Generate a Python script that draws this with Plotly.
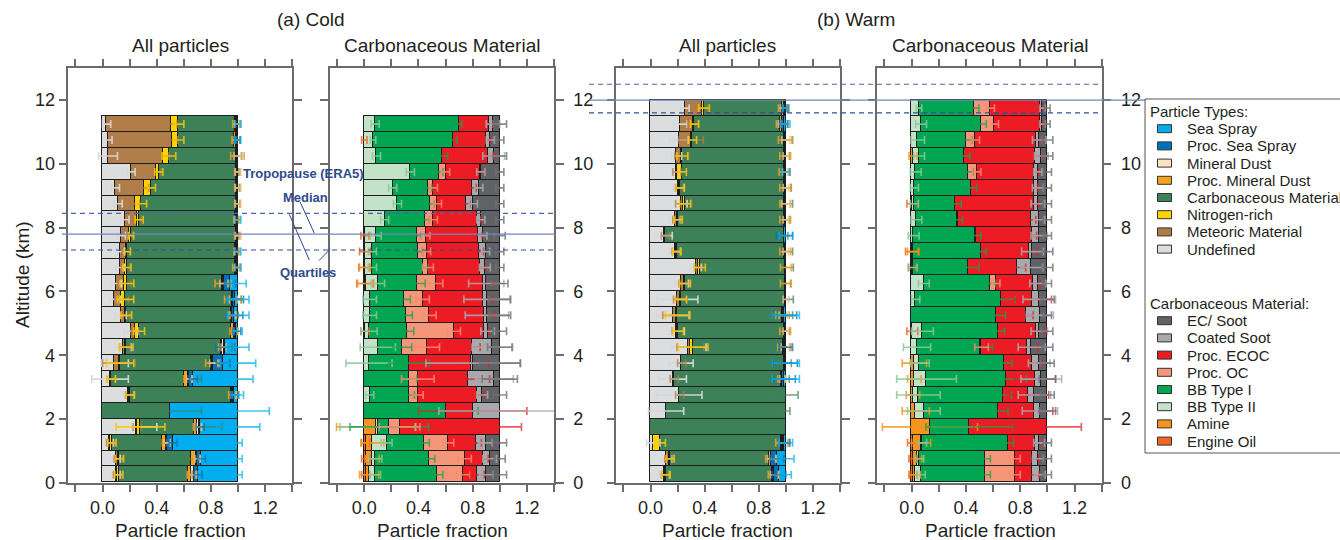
import numpy as np
import plotly.graph_objects as go

# ---------------- data ----------------
ALT_COLD = [0.25, 0.75, 1.25, 1.75, 2.25, 2.75, 3.25, 3.75, 4.25, 4.75, 5.25, 5.75,
            6.25, 6.75, 7.25, 7.75, 8.25, 8.75, 9.25, 9.75, 10.25, 10.75, 11.25]
ALT_WARM = [0.25, 0.75, 1.25, 1.75, 2.25, 2.75, 3.25, 3.75, 4.25, 4.75, 5.25, 5.75,
            6.25, 6.75, 7.25, 7.75, 8.25, 8.75, 9.25, 9.75, 10.25, 10.75, 11.25, 11.75]

PT_NAMES = ["Undefined", "Meteoric Material", "Nitrogen-rich", "Carbonaceous Material",
            "Proc. Mineral Dust", "Mineral Dust", "Proc. Sea Spray", "Sea Spray"]
CM_NAMES = ["Engine Oil", "Amine", "BB Type II", "BB Type I", "Proc. OC", "Proc. ECOC",
            "Coated Soot", "EC/ Soot"]

# (a) Cold - all particles (fractions, bottom -> top)
CA_UNDEF = [0.10, 0.10, 0.05, 0.25, 0.00, 0.19, 0.055, 0.09, 0.15, 0.21, 0.135, 0.09, 0.10, 0.13, 0.13, 0.14, 0.165, 0.115, 0.095, 0.21, 0.04, 0.04, 0.03]
CA_METEOR = [0.01, 0.015, 0.01, 0.005, 0.00, 0.01, 0.01, 0.03, 0.015, 0.03, 0.035, 0.05, 0.06, 0.04, 0.045, 0.06, 0.09, 0.13, 0.215, 0.19, 0.41, 0.475, 0.48]
CA_NITRO = [0.01, 0.01, 0.01, 0.025, 0.00, 0.005, 0.00, 0.01, 0.01, 0.03, 0.005, 0.03, 0.02, 0.01, 0.01, 0.01, 0.015, 0.04, 0.05, 0.015, 0.04, 0.045, 0.05]
CA_CARB = [0.51, 0.53, 0.37, 0.40, 0.50, 0.745, 0.535, 0.67, 0.70, 0.68, 0.775, 0.785, 0.70, 0.80, 0.795, 0.775, 0.71, 0.70, 0.63, 0.57, 0.495, 0.41, 0.42]
CA_PMD = [0.025, 0.035, 0.03, 0.02, 0.00, 0.01, 0.03, 0.01, 0.01, 0.02, 0.005, 0.005, 0.01, 0.01, 0.01, 0.01, 0.01, 0.01, 0.005, 0.01, 0.01, 0.015, 0.01]
CA_MD = [0.02, 0.01, 0.005, 0.01, 0.00, 0.005, 0.01, 0.01, 0.01, 0.01, 0.005, 0.005, 0.005, 0.005, 0.005, 0.005, 0.005, 0.005, 0.005, 0.005, 0.005, 0.005, 0.005]
CA_PSS = [0.03, 0.03, 0.045, 0.01, 0.00, 0.01, 0.03, 0.07, 0.01, 0.01, 0.015, 0.015, 0.045, 0.0, 0.0, 0.0, 0.0, 0.0, 0.0, 0.0, 0.0, 0.005, 0.0]
CA_SS = [0.295, 0.27, 0.48, 0.28, 0.50, 0.025, 0.33, 0.11, 0.095, 0.01, 0.025, 0.02, 0.06, 0.005, 0.005, 0.0, 0.005, 0.0, 0.0, 0.0, 0.0, 0.005, 0.005]

CA_UNDEF_E = [0.03, 0.03, 0.03, 0.15, 0.0, 0.04, 0.135, 0.10, 0.06, 0.05, 0.04, 0.04, 0.04, 0.03, 0.03, 0.03, 0.03, 0.03, 0.03, 0.03, 0.07, 0.03, 0.03]
CA_METEOR_E = [0.03, 0.03, 0.03, 0.03, 0.0, 0.03, 0.03, 0.12, 0.04, 0.03, 0.03, 0.05, 0.05, 0.03, 0.03, 0.02, 0.03, 0.03, 0.03, 0.03, 0.04, 0.04, 0.04]
CA_NITRO_E = [0.03, 0.03, 0.03, 0.18, 0.0, 0.03, 0.03, 0.10, 0.05, 0.04, 0.04, 0.06, 0.05, 0.03, 0.02, 0.02, 0.03, 0.04, 0.03, 0.03, 0.05, 0.04, 0.04]
CA_CARB_E = [0.03, 0.03, 0.03, 0.20, 0.23, 0.04, 0.13, 0.14, 0.08, 0.04, 0.05, 0.07, 0.05, 0.03, 0.02, 0.02, 0.02, 0.03, 0.02, 0.02, 0.04, 0.02, 0.03]
CA_PMD_E = [0.03, 0.03, 0.03, 0.03, 0.0, 0.03, 0.03, 0.05, 0.03, 0.03, 0.03, 0.06, 0.06, 0.03, 0.02, 0.02, 0.02, 0.02, 0.02, 0.02, 0.05, 0.03, 0.03]
CA_MD_E = [0.02, 0.02, 0.02, 0.02, 0.0, 0.02, 0.02, 0.03, 0.02, 0.02, 0.02, 0.03, 0.03, 0.02, 0.02, 0.02, 0.02, 0.02, 0.02, 0.02, 0.03, 0.02, 0.02]
CA_PSS_E = [0.03, 0.03, 0.03, 0.03, 0.0, 0.03, 0.03, 0.05, 0.07, 0.03, 0.06, 0.06, 0.04, 0.0, 0.0, 0.0, 0.0, 0.0, 0.0, 0.0, 0.0, 0.02, 0.0]
CA_SS_E = [0.03, 0.03, 0.03, 0.16, 0.23, 0.04, 0.11, 0.13, 0.08, 0.03, 0.08, 0.08, 0.06, 0.02, 0.02, 0.0, 0.02, 0.0, 0.0, 0.0, 0.0, 0.02, 0.02]

# (a) Cold - carbonaceous material
CC_EO = [0.01, 0.01, 0.01, 0.0, 0.0, 0.0, 0.0, 0.0, 0.0, 0.005, 0.0, 0.0, 0.005, 0.0, 0.005, 0.005, 0.0, 0.0, 0.0, 0.0, 0.0, 0.0, 0.0]
CC_AM = [0.025, 0.05, 0.05, 0.085, 0.0, 0.0, 0.0, 0.0, 0.0, 0.0, 0.0, 0.0, 0.005, 0.005, 0.0, 0.0, 0.0, 0.0, 0.0, 0.0, 0.0, 0.0, 0.0]
CC_BB2 = [0.045, 0.02, 0.105, 0.015, 0.0, 0.04, 0.0, 0.035, 0.10, 0.03, 0.04, 0.04, 0.09, 0.055, 0.055, 0.08, 0.15, 0.245, 0.21, 0.34, 0.09, 0.065, 0.08]
CC_BB1 = [0.46, 0.40, 0.275, 0.085, 0.60, 0.29, 0.33, 0.295, 0.18, 0.28, 0.265, 0.25, 0.29, 0.37, 0.34, 0.305, 0.30, 0.24, 0.26, 0.21, 0.485, 0.59, 0.62]
CC_POC = [0.19, 0.26, 0.18, 0.075, 0.0, 0.065, 0.065, 0.0, 0.185, 0.345, 0.175, 0.14, 0.14, 0.04, 0.06, 0.065, 0.06, 0.055, 0.04, 0.05, 0.0, 0.0, 0.0]
CC_ECOC = [0.105, 0.135, 0.205, 0.74, 0.20, 0.44, 0.37, 0.46, 0.33, 0.22, 0.40, 0.445, 0.345, 0.385, 0.39, 0.385, 0.32, 0.21, 0.285, 0.255, 0.335, 0.245, 0.22]
CC_COAT = [0.065, 0.05, 0.07, 0.0, 0.20, 0.035, 0.195, 0.015, 0.15, 0.03, 0.025, 0.03, 0.025, 0.035, 0.045, 0.035, 0.03, 0.055, 0.05, 0.005, 0.045, 0.03, 0.03]
CC_EC = [0.10, 0.075, 0.105, 0.0, 0.0, 0.13, 0.04, 0.195, 0.055, 0.09, 0.095, 0.095, 0.10, 0.11, 0.105, 0.125, 0.14, 0.195, 0.155, 0.14, 0.045, 0.07, 0.05]

CC_EO_E = [0.03, 0.03, 0.03, 0.0, 0.0, 0.0, 0.0, 0.0, 0.0, 0.03, 0.0, 0.0, 0.06, 0.04, 0.04, 0.03, 0.0, 0.0, 0.0, 0.0, 0.0, 0.02, 0.0]
CC_AM_E = [0.07, 0.05, 0.085, 0.29, 0.0, 0.0, 0.0, 0.0, 0.0, 0.0, 0.0, 0.0, 0.06, 0.04, 0.0, 0.0, 0.0, 0.0, 0.0, 0.0, 0.0, 0.0, 0.0]
CC_BB2_E = [0.04, 0.05, 0.04, 0.28, 0.0, 0.03, 0.0, 0.17, 0.13, 0.06, 0.05, 0.05, 0.05, 0.03, 0.03, 0.04, 0.03, 0.03, 0.03, 0.03, 0.03, 0.02, 0.03]
CC_BB1_E = [0.04, 0.04, 0.04, 0.29, 0.24, 0.04, 0.06, 0.15, 0.07, 0.05, 0.05, 0.05, 0.06, 0.04, 0.03, 0.03, 0.03, 0.03, 0.03, 0.03, 0.04, 0.03, 0.02]
CC_POC_E = [0.05, 0.05, 0.04, 0.15, 0.0, 0.04, 0.12, 0.0, 0.09, 0.05, 0.05, 0.05, 0.05, 0.04, 0.03, 0.03, 0.03, 0.03, 0.03, 0.03, 0.0, 0.0, 0.0]
CC_ECOC_E = [0.05, 0.04, 0.04, 0.16, 0.40, 0.05, 0.16, 0.13, 0.06, 0.04, 0.08, 0.07, 0.07, 0.04, 0.03, 0.03, 0.03, 0.03, 0.03, 0.03, 0.06, 0.03, 0.03]
CC_COAT_E = [0.05, 0.05, 0.05, 0.0, 0.45, 0.04, 0.14, 0.35, 0.15, 0.05, 0.16, 0.17, 0.13, 0.04, 0.03, 0.03, 0.03, 0.03, 0.03, 0.03, 0.08, 0.03, 0.05]
CC_EC_E = [0.05, 0.04, 0.05, 0.0, 0.0, 0.05, 0.13, 0.15, 0.09, 0.05, 0.08, 0.08, 0.06, 0.03, 0.03, 0.04, 0.03, 0.03, 0.03, 0.03, 0.05, 0.03, 0.05]

# (b) Warm - all particles
WA_UNDEF = [0.10, 0.12, 0.02, 0.0, 0.115, 0.21, 0.165, 0.225, 0.28, 0.19, 0.165, 0.20, 0.23, 0.335, 0.18, 0.10, 0.18, 0.23, 0.205, 0.19, 0.19, 0.21, 0.22, 0.255]
WA_METEOR = [0.01, 0.015, 0.0, 0.0, 0.0, 0.005, 0.01, 0.005, 0.015, 0.01, 0.025, 0.02, 0.02, 0.02, 0.01, 0.01, 0.015, 0.015, 0.01, 0.005, 0.04, 0.09, 0.095, 0.125]
WA_NITRO = [0.005, 0.01, 0.05, 0.0, 0.0, 0.0, 0.0, 0.0, 0.02, 0.005, 0.01, 0.005, 0.005, 0.01, 0.005, 0.0, 0.01, 0.01, 0.005, 0.04, 0.005, 0.01, 0.01, 0.015]
WA_CARB = [0.785, 0.735, 0.895, 1.0, 0.885, 0.785, 0.79, 0.76, 0.665, 0.785, 0.77, 0.77, 0.74, 0.63, 0.795, 0.875, 0.785, 0.735, 0.77, 0.75, 0.755, 0.68, 0.635, 0.58]
WA_PMD = [0.01, 0.01, 0.01, 0.0, 0.0, 0.0, 0.005, 0.0, 0.01, 0.005, 0.005, 0.0, 0.005, 0.005, 0.005, 0.0, 0.005, 0.005, 0.005, 0.005, 0.005, 0.005, 0.01, 0.01]
WA_MD = [0.005, 0.005, 0.005, 0.0, 0.0, 0.0, 0.005, 0.0, 0.005, 0.005, 0.005, 0.005, 0.0, 0.0, 0.005, 0.0, 0.005, 0.005, 0.005, 0.005, 0.005, 0.005, 0.005, 0.005]
WA_PSS = [0.035, 0.04, 0.01, 0.0, 0.0, 0.0, 0.015, 0.005, 0.005, 0.0, 0.01, 0.0, 0.0, 0.0, 0.0, 0.005, 0.0, 0.0, 0.0, 0.0, 0.0, 0.0, 0.01, 0.005]
WA_SS = [0.05, 0.065, 0.01, 0.0, 0.0, 0.0, 0.01, 0.005, 0.0, 0.0, 0.01, 0.0, 0.0, 0.0, 0.0, 0.01, 0.0, 0.0, 0.0, 0.005, 0.0, 0.0, 0.015, 0.005]

WA_UNDEF_E = [0.04, 0.04, 0.05, 0.0, 0.13, 0.17, 0.1, 0.09, 0.13, 0.06, 0.12, 0.15, 0.05, 0.04, 0.04, 0.06, 0.04, 0.04, 0.04, 0.03, 0.04, 0.07, 0.05, 0.03]
WA_METEOR_E = [0.03, 0.03, 0.0, 0.0, 0.0, 0.03, 0.03, 0.03, 0.1, 0.04, 0.1, 0.05, 0.04, 0.03, 0.03, 0.03, 0.03, 0.06, 0.03, 0.03, 0.05, 0.09, 0.04, 0.04]
WA_NITRO_E = [0.03, 0.03, 0.04, 0.0, 0.0, 0.0, 0.0, 0.0, 0.11, 0.04, 0.09, 0.04, 0.04, 0.04, 0.03, 0.0, 0.03, 0.04, 0.03, 0.03, 0.04, 0.03, 0.03, 0.04]
WA_CARB_E = [0.04, 0.06, 0.05, 0.0, 0.03, 0.09, 0.06, 0.05, 0.05, 0.04, 0.08, 0.06, 0.04, 0.06, 0.06, 0.03, 0.04, 0.06, 0.05, 0.04, 0.04, 0.06, 0.05, 0.03]
WA_PMD_E = [0.04, 0.04, 0.05, 0.0, 0.0, 0.0, 0.03, 0.0, 0.05, 0.04, 0.05, 0.0, 0.04, 0.04, 0.04, 0.0, 0.04, 0.04, 0.04, 0.04, 0.04, 0.05, 0.04, 0.04]
WA_MD_E = [0.03, 0.03, 0.03, 0.0, 0.0, 0.0, 0.02, 0.0, 0.03, 0.02, 0.03, 0.02, 0.0, 0.0, 0.02, 0.0, 0.02, 0.03, 0.02, 0.02, 0.02, 0.03, 0.03, 0.03]
WA_PSS_E = [0.05, 0.05, 0.04, 0.0, 0.0, 0.0, 0.08, 0.09, 0.05, 0.0, 0.09, 0.0, 0.0, 0.0, 0.0, 0.06, 0.0, 0.0, 0.0, 0.0, 0.0, 0.0, 0.03, 0.02]
WA_SS_E = [0.04, 0.06, 0.05, 0.0, 0.0, 0.0, 0.1, 0.1, 0.0, 0.0, 0.1, 0.0, 0.0, 0.0, 0.0, 0.05, 0.0, 0.0, 0.0, 0.03, 0.0, 0.0, 0.03, 0.02]

# (b) Warm - carbonaceous material
WC_EO = [0.01, 0.01, 0.01, 0.0, 0.0, 0.0, 0.0, 0.0, 0.0, 0.005, 0.0, 0.0, 0.0, 0.005, 0.005, 0.0, 0.0, 0.005, 0.0, 0.0, 0.0, 0.0, 0.0, 0.0]
WC_AM = [0.015, 0.035, 0.06, 0.135, 0.03, 0.01, 0.02, 0.02, 0.0, 0.0, 0.0, 0.0, 0.0, 0.0, 0.005, 0.0, 0.0, 0.0, 0.0, 0.0, 0.01, 0.0, 0.0, 0.0]
WC_BB2 = [0.045, 0.015, 0.01, 0.0, 0.06, 0.04, 0.09, 0.04, 0.04, 0.075, 0.0, 0.03, 0.09, 0.005, 0.0, 0.015, 0.035, 0.015, 0.02, 0.03, 0.045, 0.045, 0.07, 0.055]
WC_BB1 = [0.47, 0.48, 0.63, 0.29, 0.55, 0.625, 0.585, 0.62, 0.465, 0.555, 0.62, 0.63, 0.49, 0.405, 0.5, 0.455, 0.30, 0.305, 0.42, 0.385, 0.335, 0.36, 0.44, 0.41]
WC_POC = [0.22, 0.22, 0.0, 0.0, 0.0, 0.0, 0.0, 0.0, 0.01, 0.005, 0.0, 0.0, 0.04, 0.0, 0.005, 0.005, 0.005, 0.0, 0.0, 0.065, 0.0, 0.065, 0.10, 0.115]
WC_ECOC = [0.13, 0.13, 0.20, 0.575, 0.26, 0.185, 0.215, 0.21, 0.335, 0.28, 0.225, 0.23, 0.275, 0.365, 0.35, 0.415, 0.545, 0.575, 0.46, 0.425, 0.52, 0.45, 0.34, 0.365]
WC_COAT = [0.055, 0.04, 0.03, 0.0, 0.045, 0.045, 0.045, 0.05, 0.035, 0.02, 0.10, 0.05, 0.035, 0.105, 0.025, 0.05, 0.055, 0.03, 0.03, 0.025, 0.045, 0.02, 0.015, 0.02]
WC_EC = [0.055, 0.07, 0.06, 0.0, 0.055, 0.095, 0.045, 0.06, 0.115, 0.06, 0.055, 0.06, 0.07, 0.115, 0.11, 0.06, 0.06, 0.07, 0.07, 0.07, 0.045, 0.06, 0.035, 0.035]

WC_EO_E = [0.03, 0.03, 0.04, 0.0, 0.0, 0.0, 0.0, 0.0, 0.0, 0.04, 0.0, 0.0, 0.0, 0.03, 0.05, 0.0, 0.0, 0.04, 0.0, 0.0, 0.0, 0.0, 0.0, 0.0]
WC_AM_E = [0.04, 0.03, 0.07, 0.35, 0.1, 0.05, 0.05, 0.09, 0.0, 0.0, 0.0, 0.0, 0.0, 0.0, 0.04, 0.0, 0.0, 0.0, 0.0, 0.0, 0.03, 0.0, 0.0, 0.0]
WC_BB2_E = [0.03, 0.03, 0.03, 0.0, 0.12, 0.16, 0.22, 0.07, 0.1, 0.08, 0.0, 0.03, 0.04, 0.03, 0.0, 0.04, 0.04, 0.03, 0.03, 0.04, 0.04, 0.05, 0.04, 0.02]
WC_BB1_E = [0.04, 0.04, 0.04, 0.32, 0.07, 0.06, 0.15, 0.06, 0.09, 0.05, 0.07, 0.1, 0.04, 0.08, 0.04, 0.04, 0.04, 0.04, 0.04, 0.04, 0.04, 0.04, 0.04, 0.03]
WC_POC_E = [0.04, 0.04, 0.0, 0.0, 0.0, 0.0, 0.0, 0.0, 0.05, 0.0, 0.0, 0.0, 0.03, 0.0, 0.0, 0.0, 0.0, 0.0, 0.0, 0.03, 0.0, 0.03, 0.03, 0.03]
WC_ECOC_E = [0.05, 0.05, 0.05, 0.25, 0.14, 0.15, 0.15, 0.07, 0.08, 0.06, 0.05, 0.14, 0.05, 0.06, 0.06, 0.03, 0.03, 0.04, 0.03, 0.03, 0.05, 0.04, 0.02, 0.02]
WC_COAT_E = [0.04, 0.04, 0.04, 0.0, 0.13, 0.12, 0.15, 0.08, 0.1, 0.06, 0.1, 0.12, 0.06, 0.08, 0.08, 0.06, 0.04, 0.05, 0.04, 0.03, 0.05, 0.05, 0.02, 0.02]
WC_EC_E = [0.03, 0.03, 0.03, 0.0, 0.06, 0.05, 0.06, 0.05, 0.04, 0.04, 0.03, 0.05, 0.03, 0.04, 0.04, 0.03, 0.03, 0.03, 0.03, 0.03, 0.04, 0.04, 0.02, 0.02]

# tropopause (ERA5) altitudes, km: lower quartile, median, upper quartile
TROPO_COLD = [7.3, 7.8, 8.45]
TROPO_WARM = [11.6, 12.0, 12.5]

X_TICKVALS = [-0.2, 0.0, 0.2, 0.4, 0.6, 0.8, 1.0, 1.2, 1.4]
X_TICKTEXT = ["", "0.0", "", "0.4", "", "0.8", "", "1.2", ""]
Y_TICKVALS = [0, 2, 4, 6, 8, 10, 12]
Y_TICKTEXT = ["0", "2", "4", "6", "8", "10", "12"]

# ---------------- styling ----------------
PT_COLORS = ["#DCDDDE", "#B07D48", "#FFD400", "#3D8159", "#F9A11B", "#FDE3C2", "#0072BC", "#00AEEF"]
PT_ERRCOL = ["rgba(215,215,218,0.95)", "rgba(176,125,72,0.75)", "rgba(255,200,0,0.85)",
             "rgba(70,130,90,0.75)", "rgba(245,160,30,0.85)", "rgba(230,190,140,0.8)",
             "rgba(0,114,188,0.75)", "rgba(0,174,239,0.75)"]
CM_COLORS = ["#F26522", "#F7941D", "#C3E3C9", "#00A651", "#F69679", "#ED1C24", "#A7A9AC", "#616266"]
CM_ERRCOL = ["rgba(242,101,34,0.85)", "rgba(247,148,29,0.85)", "rgba(140,200,155,0.85)",
             "rgba(20,160,80,0.75)", "rgba(246,140,110,0.85)", "rgba(230,30,40,0.75)",
             "rgba(170,172,175,0.85)", "rgba(110,111,115,0.8)"]

FONT = "Liberation Sans, Arial, sans-serif"
W, H = 1340, 540
AXCOL = "#6a6b6e"


def px(x):
    return x / W


def py(y):
    return 1 - y / H


YDOM = [py(482.7), py(68.3)]
XDOMS = [[px(68.3), px(292.3)], [px(330.0), px(554.0)],
         [px(616.3), px(840.0)], [px(877.3), px(1101.7)]]
XRANGE = [-0.253, 1.4]

fig = go.Figure()


def add_panel(idx, alt, fracs, errs, colors, errcols):
    xa = "x" if idx == 1 else f"x{idx}"
    ya = "y" if idx == 1 else f"y{idx}"
    alt = np.array(alt)
    fr = np.array(fracs, dtype=float)
    er = np.array(errs, dtype=float)
    cum = np.cumsum(fr, axis=0)
    for k in range(fr.shape[0]):
        vals = [v if v > 0 else None for v in fr[k]]
        fig.add_trace(go.Bar(
            y=alt, x=vals, orientation="h", width=0.5,
            marker=dict(color=colors[k], line=dict(color="#1e1e1e", width=1.2)),
            xaxis=xa, yaxis=ya, showlegend=False, hoverinfo="skip"))
    for k in range(fr.shape[0]):
        m = er[k] > 0
        if not m.any():
            continue
        fig.add_trace(go.Scatter(
            x=cum[k][m], y=alt[m], mode="markers",
            marker=dict(size=1, color="rgba(0,0,0,0)"),
            error_x=dict(type="data", array=er[k][m], color=errcols[k],
                         thickness=1.6, width=4),
            xaxis=xa, yaxis=ya, showlegend=False, hoverinfo="skip"))


add_panel(1, ALT_COLD,
          [CA_UNDEF, CA_METEOR, CA_NITRO, CA_CARB, CA_PMD, CA_MD, CA_PSS, CA_SS],
          [CA_UNDEF_E, CA_METEOR_E, CA_NITRO_E, CA_CARB_E, CA_PMD_E, CA_MD_E, CA_PSS_E, CA_SS_E],
          PT_COLORS, PT_ERRCOL)
add_panel(2, ALT_COLD,
          [CC_EO, CC_AM, CC_BB2, CC_BB1, CC_POC, CC_ECOC, CC_COAT, CC_EC],
          [CC_EO_E, CC_AM_E, CC_BB2_E, CC_BB1_E, CC_POC_E, CC_ECOC_E, CC_COAT_E, CC_EC_E],
          CM_COLORS, CM_ERRCOL)
add_panel(3, ALT_WARM,
          [WA_UNDEF, WA_METEOR, WA_NITRO, WA_CARB, WA_PMD, WA_MD, WA_PSS, WA_SS],
          [WA_UNDEF_E, WA_METEOR_E, WA_NITRO_E, WA_CARB_E, WA_PMD_E, WA_MD_E, WA_PSS_E, WA_SS_E],
          PT_COLORS, PT_ERRCOL)
add_panel(4, ALT_WARM,
          [WC_EO, WC_AM, WC_BB2, WC_BB1, WC_POC, WC_ECOC, WC_COAT, WC_EC],
          [WC_EO_E, WC_AM_E, WC_BB2_E, WC_BB1_E, WC_POC_E, WC_ECOC_E, WC_COAT_E, WC_EC_E],
          CM_COLORS, CM_ERRCOL)

layout = dict(
    width=W, height=H, margin=dict(l=0, r=0, t=0, b=0),
    paper_bgcolor="white", plot_bgcolor="white",
    barmode="stack", bargap=0,
    font=dict(family=FONT, size=18, color="#231F20"),
)
for i in range(1, 5):
    xk = "xaxis" if i == 1 else f"xaxis{i}"
    yk = "yaxis" if i == 1 else f"yaxis{i}"
    layout[xk] = dict(
        domain=XDOMS[i - 1], range=XRANGE, anchor="y" if i == 1 else f"y{i}",
        showgrid=False, zeroline=False, showline=True, linecolor=AXCOL, linewidth=1.5,
        mirror="ticks", ticks="outside", ticklen=8, tickwidth=1.5, tickcolor=AXCOL,
        tickvals=X_TICKVALS, ticktext=X_TICKTEXT, tickfont=dict(size=18),
        automargin=False, fixedrange=True)
    ydict = dict(
        domain=YDOM, range=[0, 13], anchor="x" if i == 1 else f"x{i}",
        showgrid=False, zeroline=False, showline=True, linecolor=AXCOL, linewidth=1.5,
        mirror="ticks", ticks="outside", ticklen=8, tickwidth=1.5, tickcolor=AXCOL,
        tickvals=Y_TICKVALS, ticktext=Y_TICKTEXT, tickfont=dict(size=18),
        automargin=False, fixedrange=True)
    if i == 2 or i == 4:
        ydict["side"] = "right"
        ydict["ticklabelstandoff"] = 6
    if i == 3:
        ydict["showticklabels"] = False
    layout[yk] = ydict
fig.update_layout(**layout)

shapes = []
# tropopause lines
for (xl, xr_dash, xr_med), vals in [((62, 555, 555), TROPO_COLD), ((589, 1101, 1145), TROPO_WARM)]:
    lo, med, hi = vals
    for v, xr, dash, col in [(lo, xr_dash, "5px,4px", "#2F4F9A"), (hi, xr_dash, "5px,4px", "#4A66A8"),
                             (med, xr_med, "solid", "#7088BE")]:
        shapes.append(dict(type="line", xref="paper", yref="y", x0=px(xl), x1=px(xr),
                           y0=v, y1=v, line=dict(color=col, width=1.2, dash=dash), layer="above"))
# pointer lines for annotations
for (x0, y0, x1, y1) in [(300, 201.7, 314.3, 233.3), (289.3, 214.3, 309.3, 260), (330, 249.3, 319, 260.7)]:
    shapes.append(dict(type="line", xref="paper", yref="paper", x0=px(x0), y0=py(y0),
                       x1=px(x1), y1=py(y1), line=dict(color="#2E4A8E", width=1), layer="above"))

# legend box
shapes.append(dict(type="rect", xref="paper", yref="paper", x0=px(1145), x1=px(1345),
                   y0=py(453), y1=py(99), line=dict(color="#555", width=1), fillcolor="white"))

annotations = []
PT_LEG_ORDER = ["Sea Spray", "Proc. Sea Spray", "Mineral Dust", "Proc. Mineral Dust",
                "Carbonaceous Material", "Nitrogen-rich", "Meteoric Material", "Undefined"]
CM_LEG_ORDER = ["EC/ Soot", "Coated Soot", "Proc. ECOC", "Proc. OC", "BB Type I",
                "BB Type II", "Amine", "Engine Oil"]


def legend_block(title, ty, names, allnames, colors):
    annotations.append(dict(text=title, xref="paper", yref="paper", x=px(1148), y=py(ty),
                            xanchor="left", yanchor="middle", showarrow=False,
                            font=dict(size=15, family=FONT, color="#231F20")))
    for j, nm in enumerate(names):
        yc = ty + 17.2 * (j + 1)
        col = colors[allnames.index(nm)]
        shapes.append(dict(type="rect", xref="paper", yref="paper", x0=px(1157.5), x1=px(1171.5),
                           y0=py(yc + 4), y1=py(yc - 4), fillcolor=col,
                           line=dict(color="#333", width=1)))
        annotations.append(dict(text=nm, xref="paper", yref="paper", x=px(1185), y=py(yc),
                                xanchor="left", yanchor="middle", showarrow=False,
                                font=dict(size=15, family=FONT, color="#231F20")))


legend_block("Particle Types:", 111.5, PT_LEG_ORDER, PT_NAMES, PT_COLORS)
legend_block("Carbonaceous Material:", 303.5, CM_LEG_ORDER, CM_NAMES, CM_COLORS)


def text(t, x, y, size=19, color="#231F20", bold=False, angle=0, xanchor="center"):
    annotations.append(dict(text=f"<b>{t}</b>" if bold else t, xref="paper", yref="paper",
                            x=px(x), y=py(y), xanchor=xanchor, yanchor="middle",
                            showarrow=False, textangle=angle,
                            font=dict(size=size, family=FONT, color=color)))


text("(a) Cold", 311, 19)
text("(b) Warm", 856, 19)
for cx, t in [(180, "All particles"), (442, "Carbonaceous Material"),
              (728, "All particles"), (990, "Carbonaceous Material")]:
    text(t, cx, 46)
    text("Particle fraction", cx, 530)
text("Altitude (km)", 22, 275, angle=-90)
text("Tropopause (ERA5)", 303, 173, size=13, color="#2E4A8E", bold=True)
text("Median", 305, 197, size=13, color="#2E4A8E", bold=True)
text("Quartiles", 308, 272, size=13, color="#2E4A8E", bold=True)

fig.update_layout(shapes=shapes, annotations=annotations)
fig.write_html("out.html", config={"displayModeBar": False},
               post_script="document.body.style.margin='0px';document.body.style.overflow='hidden';")
